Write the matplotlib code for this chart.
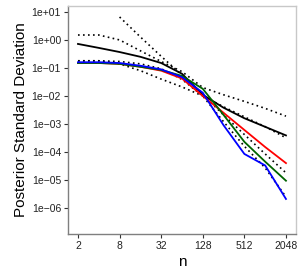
import numpy as np
import matplotlib.pyplot as plt

plt.rcParams['font.family'] = ['Liberation Sans', 'DejaVu Sans']

# sample sizes
n = np.array([2, 4, 8, 16, 32, 64, 128, 256, 512, 1024, 2048])

# posterior standard deviations
sd_black = [0.72, 0.52, 0.37, 0.25, 0.15, 0.062, 0.011, 3.8e-3, 1.6e-3, 7.9e-4, 3.9e-4]
sd_red = [0.15, 0.15, 0.14, 0.11, 0.080, 0.042, 0.010, 2.5e-3, 6.1e-4, 1.5e-4, 4.0e-5]
sd_green = [0.15, 0.15, 0.14, 0.11, 0.085, 0.052, 0.018, 2.1e-3, 2.3e-4, 4.5e-5, 9.4e-6]
sd_blue = [0.16, 0.16, 0.15, 0.12, 0.089, 0.047, 0.013, 9.0e-4, 8.5e-5, 3.3e-5, 2.1e-6]

# dotted reference curves
ref_upper = [1.5, 1.5, 1.0, 0.41, 0.17, 0.074, 0.020, 1.1e-2, 6.4e-3, 3.6e-3, 1.9e-3]
ref_steep = [np.nan, np.nan, 6.6, 1.28, 0.26, 0.056, 0.011, 2.1e-3, 4.2e-4, 8.5e-5, 1.8e-5]
ref_lower = [0.18, 0.18, 0.14, 0.08, 0.040, 0.021, 0.010, 4.1e-3, 1.8e-3, 8.0e-4, 3.2e-4]
ref_lower2 = [0.18, 0.18, 0.17, 0.14, 0.094, 0.039, 0.010, 1.2e-3, 1.6e-4, 2.7e-5, 2.5e-6]

yticks = [1e1, 1e0, 1e-1, 1e-2, 1e-3, 1e-4, 1e-5, 1e-6]
ytick_labels = ['1e+01', '1e+00', '1e-01', '1e-02', '1e-03', '1e-04', '1e-05', '1e-06']
xticks = [2, 8, 32, 128, 512, 2048]

fig = plt.figure(figsize=(3.07, 2.75), dpi=100)
ax = fig.add_axes([0.2215, 0.149, 0.7425, 0.829])

dot = (0, (1, 2))
for ref in [ref_upper, ref_steep, ref_lower, ref_lower2]:
    ax.plot(n, ref, color='black', lw=1.2, linestyle=dot)

ax.plot(n, sd_black, color='black', lw=1.3)
ax.plot(n, sd_red, color='red', lw=1.3)
ax.plot(n, sd_green, color='darkgreen', lw=1.3)
ax.plot(n, sd_blue, color='blue', lw=1.3)

ax.set_xscale('log', base=2)
ax.set_yscale('log')
ax.set_xlim(2 ** 0.52, 2 ** 11.48)
ax.set_ylim(10 ** -6.93, 10 ** 1.21)
ax.set_xticks(xticks)
ax.set_xticklabels([str(x) for x in xticks])
ax.set_yticks(yticks)
ax.set_yticklabels([t.replace('-', '\u2212') for t in ytick_labels])
ax.minorticks_off()

ax.tick_params(labelsize=7.5, length=3, width=0.8, color='#333333',
               labelcolor='#222222', pad=2)
for s in ['left', 'bottom']:
    ax.spines[s].set_color('#7f7f7f')
    ax.spines[s].set_linewidth(1.0)
for s in ['top', 'right']:
    ax.spines[s].set_color('#c8c8c8')
    ax.spines[s].set_linewidth(1.0)

ax.set_xlabel('n', fontsize=11, labelpad=3)
ax.set_ylabel('Posterior Standard Deviation', fontsize=11, labelpad=3)

fig.savefig('out.png', dpi=100)
